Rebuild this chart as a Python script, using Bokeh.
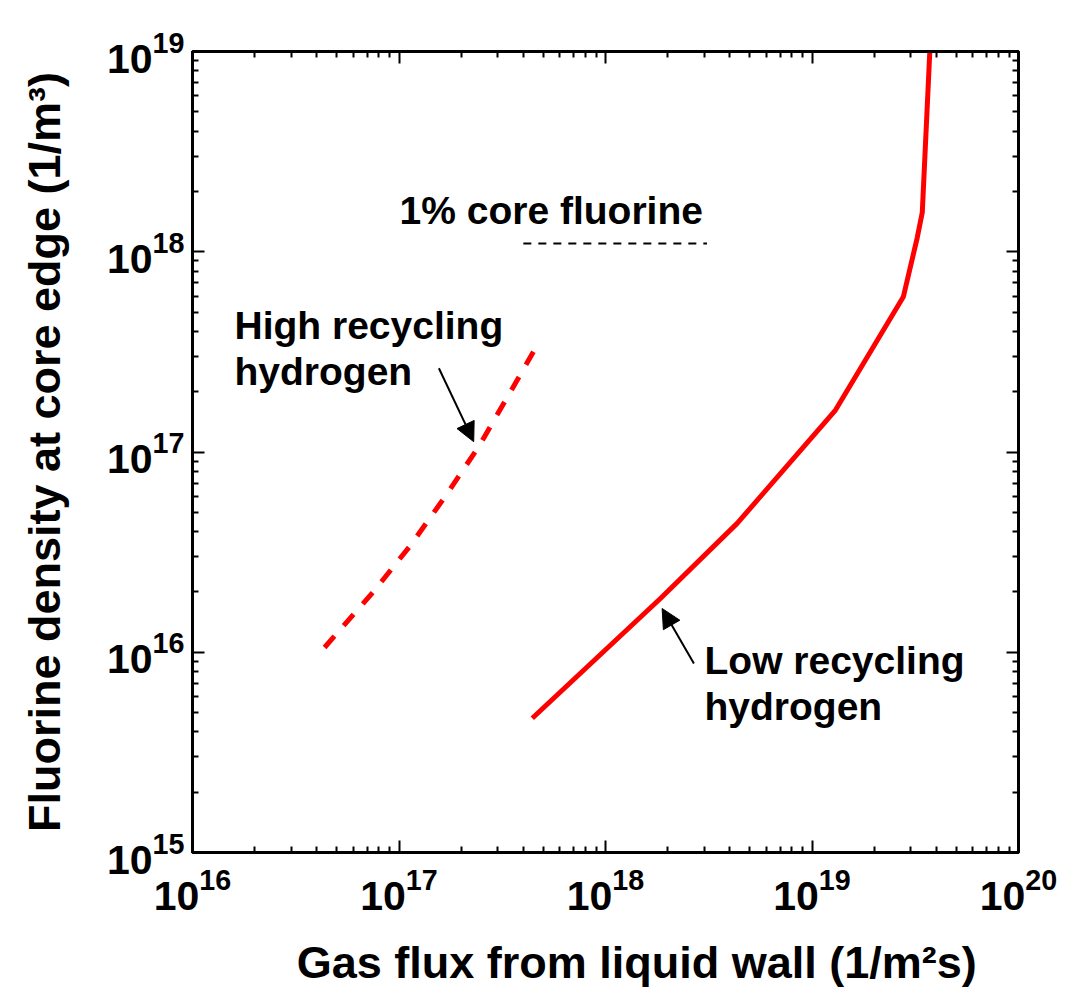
from bokeh.plotting import figure
from bokeh.models import (LogAxis, Label, Arrow, NormalHead, Range1d,
                          FixedTicker, CustomJSTickFormatter, LogTickFormatter)
from bokeh.embed import file_html
from bokeh.resources import INLINE

# ---------------- data ----------------
low_x = [4.42e17, 1.85e18, 4.34e18, 1.30e19, 2.77e19, 3.23e19, 3.42e19, 3.72e19]
low_y = [4.68e15, 1.86e16, 4.40e16, 1.62e17, 5.96e17, 1.17e18, 1.57e18, 1.0e19]
high_x = [4.36e16, 7.50e16, 1.14e17, 1.68e17, 2.44e17, 3.40e17, 4.75e17]
high_y = [1.056e16, 2.00e16, 3.43e16, 6.03e16, 1.07e17, 1.93e17, 3.52e17]
core_x = [4.0e17, 3.1e18]
core_y = [1.1e18, 1.1e18]
x_tick_exps = [16, 17, 18, 19, 20]
y_tick_exps = [15, 16, 17, 18, 19]
x_title = "Gas flux from liquid wall (1/m\u00b2s)"
y_title = "Fluorine density at core edge (1/m\u00b3)"
notes = ["1% core fluorine", "High recycling", "hydrogen", "Low recycling", "hydrogen"]
# arrows (tail -> head), data coordinates
high_arrow = [1.56e17, 2.62e17, 2.30e17, 1.126e17]
low_arrow = [2.68e18, 8.78e15, 1.88e18, 1.654e16]

# ---------------- layout ----------------
FL, FR, FT, FB = 192, 1018, 51, 852   # frame edges in page pixels
FONT = "Liberation Sans"
NBSP = "\u00a0"


def px2x(px):
    return 10 ** (x_tick_exps[0] + (x_tick_exps[-1] - x_tick_exps[0]) * (px - FL) / (FR - FL))


def py2y(py):
    return 10 ** (y_tick_exps[0] + (y_tick_exps[-1] - y_tick_exps[0]) * (FB - py) / (FB - FT))


p = figure(frame_width=FR - FL, frame_height=FB - FT,
           x_axis_type="log", y_axis_type="log",
           x_range=Range1d(10 ** x_tick_exps[0], 10 ** x_tick_exps[-1]),
           y_range=Range1d(10 ** y_tick_exps[0], 10 ** y_tick_exps[-1]),
           output_backend="svg", toolbar_location=None,
           min_border_left=FL, min_border_right=50,
           min_border_top=FT, min_border_bottom=60)
p.grid.visible = False
p.outline_line_color = "black"
p.outline_line_width = 3
p.background_fill_color = "white"
p.border_fill_color = "white"

x_major = [10.0 ** e for e in x_tick_exps]
x_minor = [m * 10.0 ** e for e in x_tick_exps[:-1] for m in range(2, 10)]
y_major = [10.0 ** e for e in y_tick_exps]
y_minor = [m * 10.0 ** e for e in y_tick_exps[:-1] for m in range(2, 10)]

p.add_layout(LogAxis(), "above")
p.add_layout(LogAxis(), "right")

blank = CustomJSTickFormatter(code="return ''")
for ax in p.xaxis:
    ax.ticker = FixedTicker(ticks=x_major, minor_ticks=x_minor)
for ax in p.yaxis:
    ax.ticker = FixedTicker(ticks=y_major, minor_ticks=y_minor)
for ax in list(p.xaxis) + list(p.yaxis):
    ax.major_tick_in = 12
    ax.major_tick_out = 0
    ax.minor_tick_in = 6
    ax.minor_tick_out = 0
    ax.major_tick_line_width = 2
    ax.minor_tick_line_width = 2
    ax.axis_line_width = 3
    ax.axis_line_color = "black"
    ax.major_tick_line_color = "black"
    ax.minor_tick_line_color = "black"
    ax.major_label_text_font = FONT
    ax.major_label_text_font_style = "bold"
    ax.major_label_text_font_size = "41px"
    ax.major_label_text_color = "black"
    ax.axis_label_text_font = FONT
    ax.axis_label_text_font_style = "bold"
    ax.axis_label_text_font_size = "45px"
    ax.axis_label_text_color = "black"

# top and right axes: ticks only
for ax in (p.above[0], p.right[0]):
    ax.formatter = blank
    ax.major_label_standoff = 0
    ax.major_label_text_font_size = "1px"

bx = p.below[0]
bx.formatter = LogTickFormatter()
bx.major_label_standoff = 15
bx.axis_label = NBSP * 5 + x_title
bx.axis_label_standoff = 24

ly = p.left[0]
ly.formatter = LogTickFormatter()
ly.major_label_standoff = 8
ly.axis_label = y_title
ly.axis_label_standoff = 34

# ---------------- data lines ----------------
p.line(low_x, low_y, line_color="#ff0000", line_width=5)
p.line(high_x, high_y, line_color="#ff0000", line_width=5, line_dash="15 14")
p.line(core_x, core_y, line_color="black", line_width=2, line_dash="8 7")

for a in (high_arrow, low_arrow):
    p.add_layout(Arrow(end=NormalHead(size=19, fill_color="black", line_color="black", line_width=1),
                       x_start=a[0], y_start=a[1], x_end=a[2], y_end=a[3],
                       line_color="black", line_width=2))


def lab(text, px, py, size):
    p.add_layout(Label(x=px2x(px), y=py2y(py), text=text, text_font=FONT,
                       text_font_style="bold", text_font_size=f"{size}px",
                       text_align="left", text_baseline="alphabetic",
                       text_color="black"))


# ---------------- annotations ----------------
lab(notes[0], 399, 210, 39)
lab(notes[1], 234, 325, 39)
lab(notes[2], 234, 371, 39)
lab(notes[3], 704, 660, 39)
lab(notes[4], 704, 706, 39)

open("out.html", "w").write(file_html(p, INLINE))
